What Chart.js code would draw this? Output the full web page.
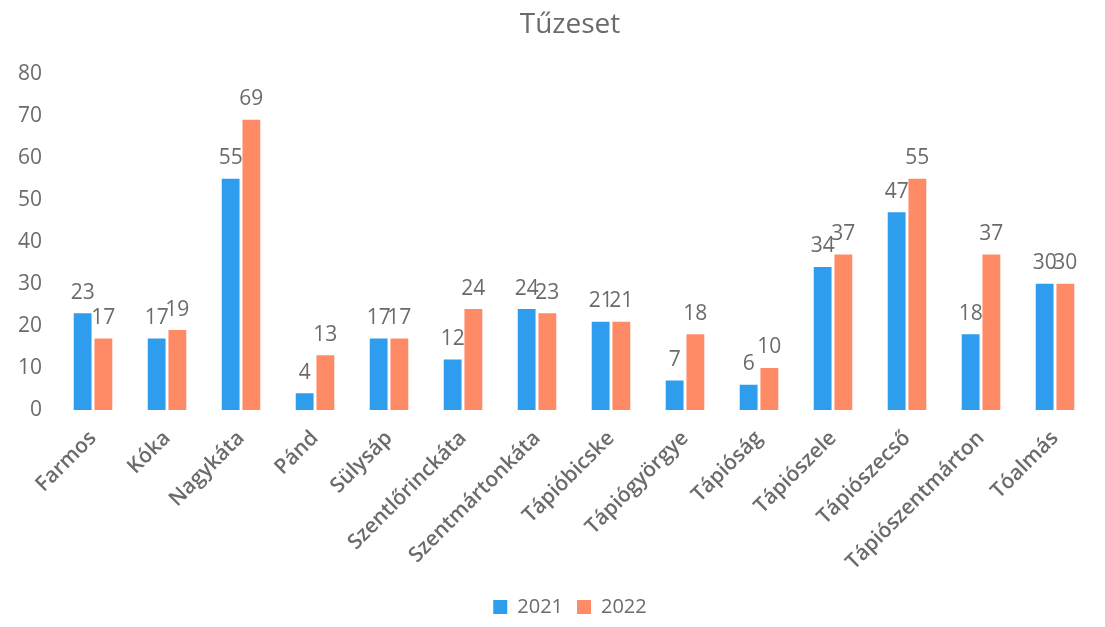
<!DOCTYPE html>
<html>
<head>
<meta charset="utf-8">
<script src="https://cdn.jsdelivr.net/npm/chart.js@4"></script>
<style>
    body { margin: 0; background: #fff; }
    #wrap { width: 1105px; height: 627px; }
</style>
</head>
<body>
<div id="wrap"><canvas id="fireChart" width="1105" height="627"></canvas></div>
<script>
const towns = ['Farmos', 'Kóka', 'Nagykáta', 'Pánd', 'Sülysáp', 'Szentlőrinckáta', 'Szentmártonkáta',
    'Tápióbicske', 'Tápiógyörgye', 'Tápióság', 'Tápiószele', 'Tápiószecső', 'Tápiószentmárton', 'Tóalmás'];
const fires2021 = [23, 17, 55, 4, 17, 12, 24, 21, 7, 6, 34, 47, 18, 30];
const fires2022 = [17, 19, 69, 13, 17, 24, 23, 21, 18, 10, 37, 55, 37, 30];
const yTicks = [0, 10, 20, 30, 40, 50, 60, 70, 80];

const textGray = '#6b6b6b';

// value labels above each bar
const barLabels = {
    id: 'barLabels',
    afterDatasetsDraw(chart) {
        const ctx = chart.ctx;
        ctx.save();
        ctx.fillStyle = textGray;
        ctx.font = '21px "Open Sans"';
        ctx.textAlign = 'center';
        ctx.textBaseline = 'bottom';
        chart.data.datasets.forEach((ds, i) => {
            chart.getDatasetMeta(i).data.forEach((bar, j) => {
                ctx.fillText(ds.data[j], bar.x, bar.y - 10);
            });
        });
        ctx.restore();
    }
};

// title and legend sit a bit right of centre in the original
const shiftBoxes = {
    id: 'shiftBoxes',
    afterLayout(chart) {
        [chart.titleBlock, chart.legend].forEach(box => {
            if (!box) return;
            box.left += 18;
            box.right += 18;
        });
    }
};

const chart = new Chart(document.getElementById('fireChart').getContext('2d'), {
    type: 'bar',
    data: {
        labels: towns,
        datasets: [
            { label: '2021', data: fires2021, backgroundColor: '#2f9ded', barPercentage: 0.86, categoryPercentage: 0.56 },
            { label: '2022', data: fires2022, backgroundColor: '#ff8a66', barPercentage: 0.86, categoryPercentage: 0.56 }
        ]
    },
    options: {
        responsive: false,
        animation: false,
        layout: { padding: { left: 12, right: 13, top: 0, bottom: 0 } },
        plugins: {
            title: {
                display: true,
                text: 'Tűzeset',
                color: textGray,
                font: { family: 'Open Sans', size: 28, weight: 'normal' },
                padding: { top: 8, bottom: 32 }
            },
            legend: {
                position: 'bottom',
                labels: {
                    color: textGray,
                    font: { family: 'Open Sans', size: 20 },
                    boxWidth: 14,
                    boxHeight: 14,
                    padding: 14
                }
            },
            tooltip: { enabled: false }
        },
        scales: {
            y: {
                min: 0,
                max: 80,
                afterBuildTicks: axis => { axis.ticks = yTicks.map(v => ({ value: v })); },
                grid: { display: false },
                border: { display: false },
                ticks: { color: textGray, font: { family: 'Open Sans', size: 21 }, padding: 6 }
            },
            x: {
                grid: { display: false },
                border: { display: false },
                ticks: {
                    color: textGray,
                    font: { family: 'Open Sans', size: 21, weight: 600 },
                    maxRotation: 45,
                    minRotation: 45,
                    padding: 8
                }
            }
        }
    },
    plugins: [barLabels, shiftBoxes]
});
</script>
</body>
</html>
